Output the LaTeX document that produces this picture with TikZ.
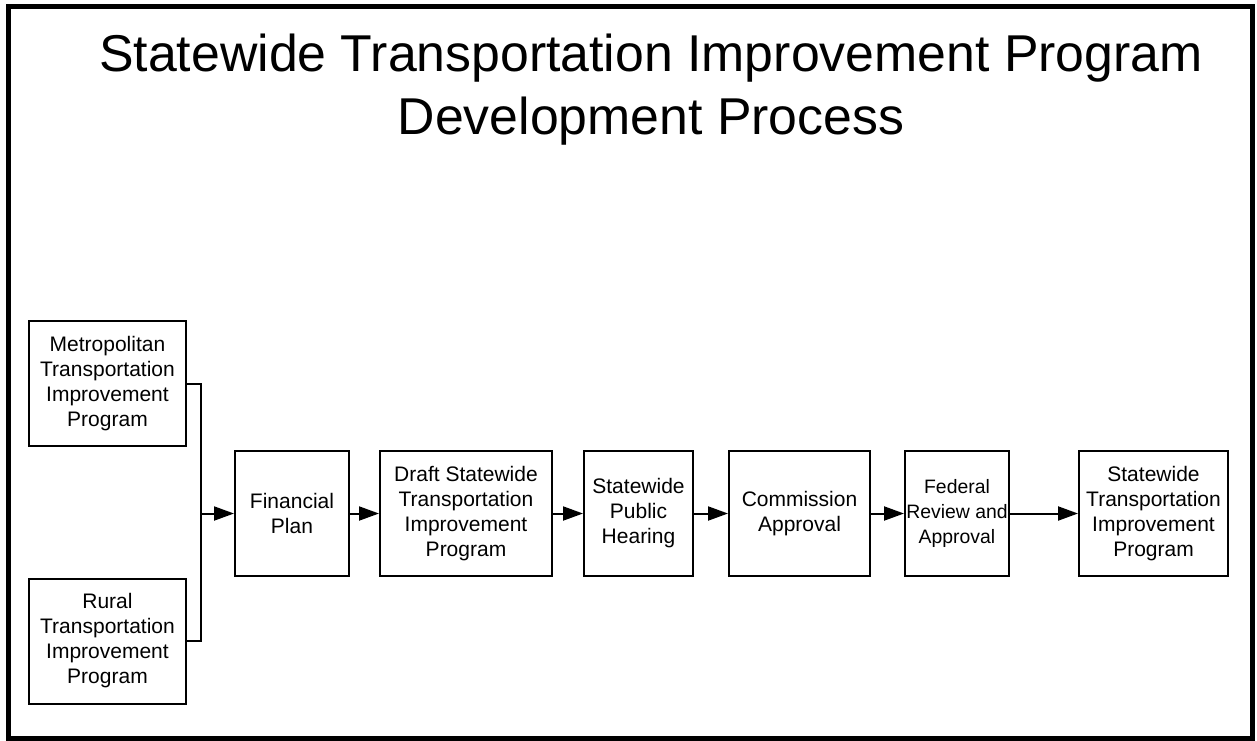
\documentclass[tikz,border=0pt]{standalone}
\usepackage{fontspec}
\setmainfont{Liberation Sans}
\usepackage{tikz}
\usetikzlibrary{arrows.meta,positioning,calc}

\begin{document}
\begin{tikzpicture}[
    x=0.5pt, y=-0.5pt,
    font=\fontsize{10.5}{12.5}\selectfont,
    stage/.style={rectangle, draw=black, line width=1pt, align=center, inner sep=0pt, minimum height=62.5pt},
    source/.style={stage, minimum width=78.5pt},
    heading/.style={font=\fontsize{25.9}{31.5}\selectfont, anchor=base},
    line/.style={draw=black, line width=1pt},
    arrow/.style={line, -{Triangle[length=10pt, width=7pt]}}
]
    \useasboundingbox (0,0) rectangle (1257,740);
    \draw[line width=2.5pt] (8.5,6.5) rectangle (1252.5,738.5);

    % Title
    \node[heading] (title) at (651,71) {Statewide Transportation Improvement Program};
    \node[heading] (subtitle) at (651,134) {Development Process};

    % Sources
    \node[source] (metro) at (107.5,383.5) {Metropolitan\\Transportation\\Improvement\\Program};
    \node[source] (rural) at (107.5,641) {Rural\\Transportation\\Improvement\\Program};

    % Process stages
    \node[stage, minimum width=57pt] (finance) at (292,513.5) {Financial\\Plan};
    \node[stage, minimum width=86pt] (draft) at (466,513.5) {Draft Statewide\\Transportation\\Improvement\\Program};
    \node[stage, minimum width=54.5pt] (hearing) at (638.5,513.5) {Statewide\\Public\\Hearing};
    \node[stage, minimum width=70.5pt] (commission) at (799.5,513.5) {Commission\\Approval};
    \node[stage, minimum width=52pt, font=\fontsize{9.7}{12.5}\selectfont] (federal) at (957,513.5) {Federal\\Review and\\Approval};
    \node[stage, minimum width=74.5pt] (stip) at (1153.5,513.5) {Statewide\\Transportation\\Improvement\\Program};

    % Connectors
    \coordinate (join) at (201,513.5);
    \draw[line] (metro.east) -| (join) |- (rural.east);
    \draw[arrow] (join) -- (finance.west);
    \draw[arrow] (finance) -- (draft);
    \draw[arrow] (draft) -- (hearing);
    \draw[arrow] (hearing) -- (commission);
    \draw[arrow] (commission) -- (federal);
    \draw[arrow] (federal) -- (stip);

\end{tikzpicture}
\end{document}
